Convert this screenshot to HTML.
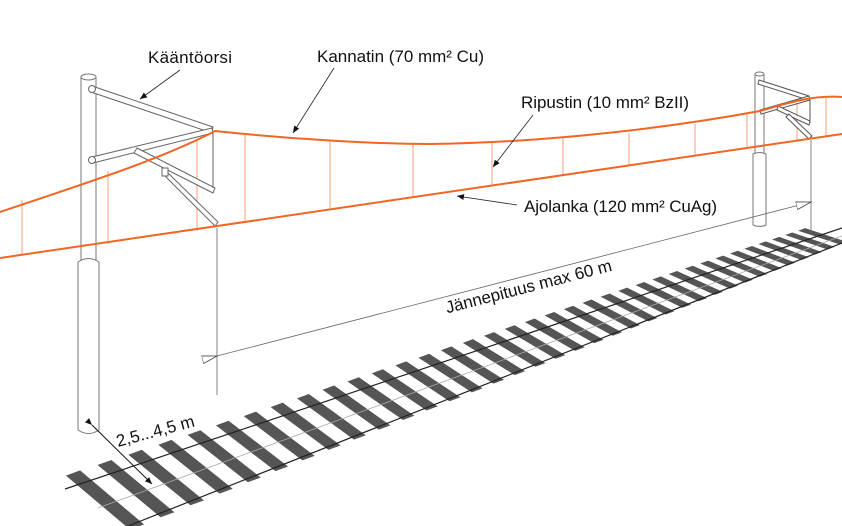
<!DOCTYPE html>
<html><head><meta charset="utf-8"><style>
html,body{margin:0;padding:0;background:#fff}
svg{display:block}
text{font-family:"Liberation Sans",sans-serif;fill:#111}
</style></head><body>
<svg id="s" width="842" height="526" viewBox="0 0 842 526" xmlns="http://www.w3.org/2000/svg">
<defs>
<marker id="ah" markerWidth="8" markerHeight="8" refX="7" refY="4" orient="auto" markerUnits="userSpaceOnUse"><path d="M0,1 L7,4 L0,7 Z" fill="#111"/></marker>
<marker id="oh" markerWidth="16" markerHeight="10" refX="15" refY="5" orient="auto" markerUnits="userSpaceOnUse"><path d="M0,1 L15,5 L0,9 Z" fill="#fff" stroke="#444" stroke-width="0.8"/></marker>
</defs>
<g id="track"></g>

<g fill="#fff" stroke="#777" stroke-width="1">
<rect x="81" y="77" width="15" height="185"/>
<ellipse cx="88.5" cy="77" rx="7.5" ry="3"/>
<path d="M78,262 Q88.5,255 99,262 L99,430 Q88.5,437 78,430 Z"/>
</g>
<g fill="#fff" stroke="#777" stroke-width="1">
<rect x="755" y="74" width="9" height="82"/>
<ellipse cx="759.5" cy="74" rx="4.5" ry="2"/>
<path d="M753,154 Q759.5,151 766,154 L766,225 Q759.5,228 753,225 Z"/>
</g>

<g stroke="#f5a27a" stroke-width="1">
<line x1="22" y1="200" x2="22" y2="255"/>
<line x1="108" y1="171" x2="108" y2="244"/>
<line x1="197" y1="140" x2="197" y2="231"/>
<line x1="245" y1="135" x2="245" y2="223"/>
<line x1="330" y1="141" x2="330" y2="210"/>
<line x1="413" y1="143" x2="413" y2="197"/>
<line x1="492" y1="142" x2="492" y2="186"/>
<line x1="563" y1="138" x2="563" y2="176"/>
<line x1="629" y1="133" x2="629" y2="166"/>
<line x1="695" y1="124" x2="695" y2="156"/>
<line x1="747" y1="113" x2="747" y2="148"/>
<line x1="797" y1="103" x2="797" y2="141"/>
<line x1="826" y1="98" x2="826" y2="137"/>
</g>

<g stroke="#666" stroke-width="1" fill="#fff">
<path d="M92,86 L213,127 L212,133 L91,92 Z"/>
<path d="M92,157 L212,128 L213,133 L93,163 Z"/>
<path d="M137,148 L215,188 L213,193 L134,153 Z"/>
<path d="M166,171 L218,222 L215,226 L163,174 Z"/>
<line x1="213" y1="133" x2="213" y2="188"/>
<circle cx="92" cy="89" r="3.5"/><circle cx="92" cy="160" r="3.5"/>
<rect x="162" y="168" width="6" height="8"/>
</g>
<g stroke="#555" stroke-width="1" fill="#fff">
<path d="M759,80 L809,96 L808,100 L758,84 Z"/>
<path d="M760,110 L809,96 L810,100 L761,114 Z"/>
<path d="M778,106 L810,121 L809,125 L777,110 Z"/>
<path d="M789,114 L812,136 L809,139 L786,117 Z"/>
<line x1="810" y1="99" x2="810" y2="123"/>
</g>

<path d="M0,212 C80,185 160,160 215,131 C300,140 380,144 430,144 C520,143 640,133 760,111 C790,102 815,95 842,97" stroke="#f26522" stroke-width="2" fill="none"/>
<line x1="0" y1="258" x2="842" y2="134" stroke="#f26522" stroke-width="2"/>

<g stroke="#666" stroke-width="0.8">
<line x1="217" y1="228" x2="217" y2="395"/>
<line x1="811" y1="140" x2="811" y2="235"/>
<line x1="217" y1="356" x2="811" y2="202" marker-start="url(#oh)" marker-end="url(#oh)"/>
</g>
<text x="530" y="292" font-size="17" text-anchor="middle" transform="rotate(-14.5 530 292)">Jännepituus max 60 m</text>

<line x1="92" y1="425" x2="152" y2="484" stroke="#111" stroke-width="1" marker-start="url(#ah)" marker-end="url(#ah)"/>
<text x="118" y="447" font-size="17" transform="rotate(-15 118 447)">2,5...4,5 m</text>

<text x="148" y="63" font-size="17" textLength="84">Kääntöorsi</text>
<line x1="180" y1="70" x2="140" y2="99" stroke="#222" stroke-width="0.8" marker-end="url(#ah)"/>
<text x="317" y="62" font-size="17" textLength="167">Kannatin (70 mm² Cu)</text>
<line x1="334" y1="68" x2="293" y2="133" stroke="#222" stroke-width="0.8" marker-end="url(#ah)"/>
<text x="521" y="108" font-size="17" textLength="168">Ripustin (10 mm² BzII)</text>
<line x1="533" y1="115" x2="493" y2="167" stroke="#222" stroke-width="0.8" marker-end="url(#ah)"/>
<text x="524" y="212" font-size="17" textLength="193">Ajolanka (120 mm² CuAg)</text>
<line x1="517" y1="205" x2="457" y2="196" stroke="#222" stroke-width="0.8" marker-end="url(#ah)"/>
</svg>
<script>
const sleeperCount = [40];
const g = document.getElementById('track');
const NS = 'http://www.w3.org/2000/svg';
function line(x1,y1,x2,y2,c,w,name){
  const l=document.createElementNS(NS,'line');
  l.setAttribute('x1',x1);l.setAttribute('y1',y1);l.setAttribute('x2',x2);l.setAttribute('y2',y2);
  l.setAttribute('stroke',c);l.setAttribute('stroke-width',w);
  
  
  return l;
}
const sx=105, sy=500, ex=818, ey=238;
const L=Math.hypot(ex-sx,ey-sy), ux=(ex-sx)/L, uy=(ey-sy)/L;
let d=0, step=33, r=0.974;
for(let i=0;i<sleeperCount[0];i++){
  const t=d/L; if(t>1.01)break;
  const cx=sx+ux*d, cy=sy+uy*d;
  const hx=32+(21-32)*t, hy=27+(7-27)*t;
  const th=15*(1-0.5*t);
  const tx=ux*th/2, ty=uy*th/2;
  const p=document.createElementNS(NS,'polygon');
  p.setAttribute('points',[[cx-hx-tx,cy-hy-ty],[cx-hx+tx,cy-hy+ty],[cx+hx+tx,cy+hy+ty],[cx+hx-tx,cy+hy-ty]].map(a=>a.join(',')).join(' '));
  p.setAttribute('fill','#555');
  
  
  g.appendChild(p);
  d+=step; step*=r;
}
g.appendChild(line(65,489,842,228,'#222',1.2,'rail-left'));
g.appendChild(line(98,508,842,236,'#aaa',0.8,'track-centerline'));
g.appendChild(line(128,526,842,243,'#222',1.2,'rail-right'));
</script>
</body></html>
